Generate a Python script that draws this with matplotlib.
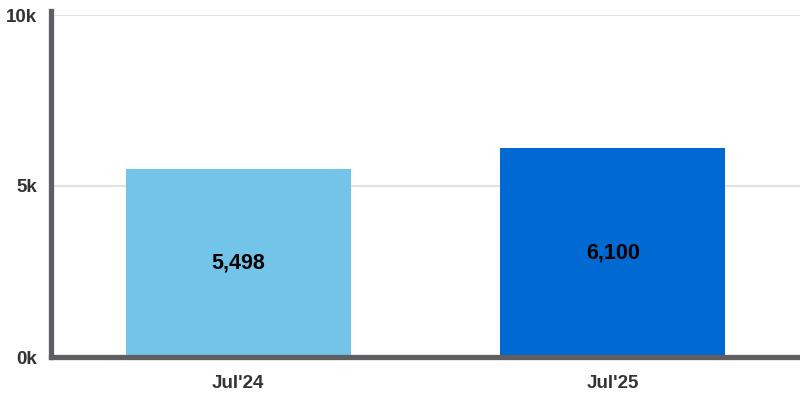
import matplotlib
matplotlib.use("Agg")
import matplotlib.pyplot as plt
from matplotlib.ticker import FuncFormatter

categories = ["Jul'24", "Jul'25"]
values = [5498, 6100]
colors = ["#72C5E8", "#0069D2"]
yticks = [0, 5000, 10000]

plt.rcParams['font.family'] = ['Liberation Sans', 'DejaVu Sans']

fig = plt.figure(figsize=(8, 4), dpi=100)
ax = fig.add_axes([51/800, (400-357)/400, (800-51)/800, (357-15)/400])

x = list(range(len(categories)))
bars = ax.bar(x, values, width=0.6, color=colors, zorder=3)
ax.set_xlim(-0.5, len(categories) - 0.5)
ax.set_ylim(0, 10000)

ax.set_yticks(yticks)
ax.yaxis.set_major_formatter(FuncFormatter(lambda v, p: f"{int(v/1000)}k"))
ax.set_xticks(x)
ax.set_xticklabels(categories)

for lab in ax.get_yticklabels() + ax.get_xticklabels():
    lab.set_fontweight('bold')
    lab.set_fontsize(13.5)
    lab.set_color('#333333')

ax.tick_params(axis='both', length=0)
ax.tick_params(axis='y', pad=10)
ax.tick_params(axis='x', pad=13)

ax.grid(axis='y', color='#e2e2e2', linewidth=1.5, zorder=0)
for s in ['top', 'right']:
    ax.spines[s].set_visible(False)
for s in ['left', 'bottom']:
    ax.spines[s].set_linewidth(3.8)
    ax.spines[s].set_color('#5f5f63')
    ax.spines[s].set_zorder(4)
ax.spines['left'].set_bounds(0, 10120)

for rect, v in zip(bars, values):
    ax.text(rect.get_x() + rect.get_width()/2, v/2, f"{v:,}",
            ha='center', va='center', fontsize=15.5, fontweight='bold', color='black', zorder=5)

fig.savefig('out.png', dpi=100)
